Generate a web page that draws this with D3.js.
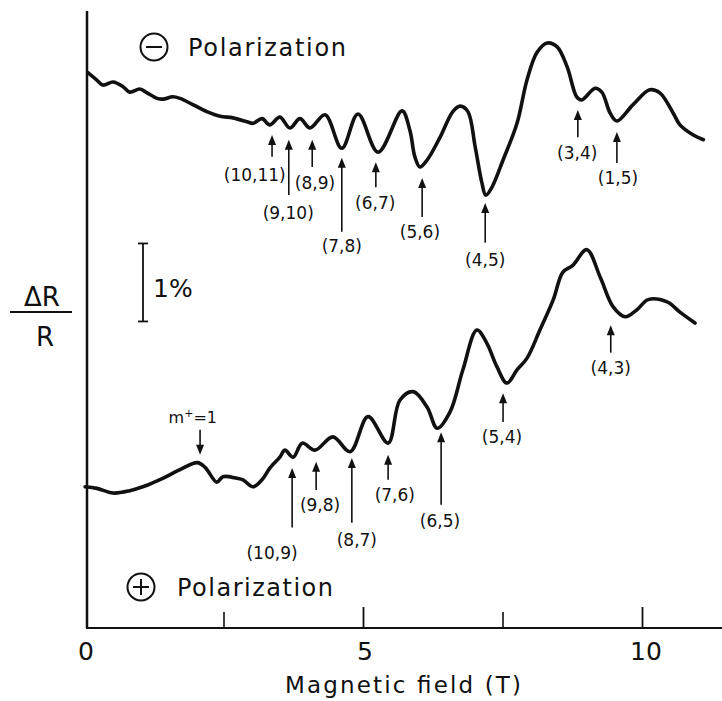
<!DOCTYPE html>
<html><head><meta charset="utf-8">
<script src="https://cdn.jsdelivr.net/npm/d3@7"></script>
<style>html,body{margin:0;padding:0;background:#fff;}svg{display:block;}</style>
</head><body>
<script>
// ---- data (field in T, signal in % of ΔR/R, arbitrary offset) ----
const topField  = [0.07,0.22,0.34,0.52,0.70,0.82,1.00,1.13,1.31,1.42,1.59,1.72,1.95,2.20,2.44,2.67,2.92,3.03,3.19,3.33,3.51,3.69,3.87,4.05,4.32,4.62,4.91,5.27,5.70,5.84,5.93,6.02,6.15,6.38,6.61,6.74,6.88,7.01,7.13,7.20,7.31,7.51,7.76,7.94,8.12,8.30,8.48,8.66,8.83,8.92,9.16,9.28,9.43,9.55,9.84,10.14,10.32,10.56,10.68,10.92,11.10];
const topSignal = [7.12,7.03,6.96,7.00,6.94,6.87,6.91,6.86,6.79,6.78,6.81,6.79,6.71,6.62,6.56,6.54,6.49,6.47,6.53,6.45,6.55,6.41,6.53,6.41,6.58,6.15,6.59,6.10,6.63,6.38,6.04,5.91,6.00,6.29,6.62,6.69,6.62,6.17,5.71,5.55,5.65,6.00,6.47,7.03,7.38,7.50,7.45,7.19,6.81,6.77,6.92,6.87,6.60,6.50,6.71,6.90,6.86,6.60,6.45,6.32,6.26];
const botField  = [0.02,0.23,0.52,0.82,1.13,1.42,1.72,2.03,2.17,2.38,2.49,2.74,2.85,3.03,3.19,3.33,3.51,3.60,3.75,3.91,4.14,4.46,4.77,5.09,5.45,5.66,5.90,6.15,6.33,6.56,6.79,7.04,7.22,7.40,7.58,7.76,7.94,8.17,8.41,8.58,8.76,9.01,9.25,9.48,9.70,9.91,10.11,10.45,10.68,10.95];
const botSignal = [1.81,1.79,1.73,1.76,1.83,1.92,2.03,2.12,2.06,1.87,1.94,1.92,1.90,1.81,1.90,2.05,2.19,2.28,2.19,2.37,2.28,2.45,2.26,2.71,2.37,2.92,3.03,2.83,2.56,2.77,3.31,3.82,3.65,3.35,3.14,3.31,3.46,3.82,4.21,4.56,4.65,4.85,4.50,4.12,3.99,4.08,4.21,4.18,4.05,3.91];

// Landau-level transition annotations
const topLabels   = ["(10,11)","(9,10)","(8,9)","(7,8)","(6,7)","(5,6)","(4,5)","(3,4)","(1,5)"];
const topArrowT   = [3.37,3.67,4.09,4.62,5.23,6.06,7.19,8.85,9.55];
const topArrowTip = [6.32,6.26,6.26,6.03,5.97,5.77,5.45,6.64,6.36];
const topArrowEnd = [6.04,5.55,5.91,5.08,5.65,5.27,4.94,6.29,5.96];
const topLabelT   = [3.06,3.66,4.14,4.62,5.22,6.02,7.19,8.84,9.57];
const topLabelV   = [5.81,5.32,5.71,4.90,5.45,5.08,4.72,6.09,5.77];

const botLabels   = ["(10,9)","(9,8)","(8,7)","(7,6)","(6,5)","(5,4)","(4,3)"];
const botArrowT   = [3.73,4.16,4.80,5.45,6.40,7.51,9.44];
const botArrowTip = [2.05,2.13,2.18,2.22,2.51,3.01,3.88];
const botArrowEnd = [1.29,1.77,1.35,1.90,1.58,2.64,3.53];
const botLabelT   = [3.37,4.23,4.89,5.57,6.38,7.49,9.44];
const botLabelV   = [0.96,1.58,1.13,1.71,1.37,2.45,3.33];

const xTicksMajor = [0,5,10];
const xTicksMinor = [2.5,7.5];
const scaleBar = [3.93,4.93]; // 1 % bar

// ---- drawing ----
const W = 722, H = 701;
const svg = d3.select("body").append("svg").attr("width",W).attr("height",H);
const x = d3.scaleLinear().domain([0,10]).range([84,642]);
const y = d3.scaleLinear().domain([0,7.91]).range([628,11]);
const ink = "#111";
const font = "'DejaVu Sans', sans-serif";

// axes
svg.append("line").attr("x1",87).attr("x2",87).attr("y1",y(7.91)).attr("y2",y(0))
  .attr("stroke",ink).attr("stroke-width",2.5);
svg.append("line").attr("x1",86).attr("x2",W).attr("y1",y(0)).attr("y2",y(0))
  .attr("stroke",ink).attr("stroke-width",2.2);
const xAxis = d3.axisTop(x).tickValues(xTicksMajor.slice(1)).tickSize(21).tickFormat("");
svg.append("g").attr("transform",`translate(0,${y(0)})`).call(xAxis)
  .call(g=>g.select(".domain").remove())
  .call(g=>g.selectAll("line").attr("stroke",ink).attr("stroke-width",1.8));
const xAxisMinor = d3.axisTop(x).tickValues(xTicksMinor).tickSize(16).tickFormat("");
svg.append("g").attr("transform",`translate(0,${y(0)})`).call(xAxisMinor)
  .call(g=>g.select(".domain").remove())
  .call(g=>g.selectAll("line").attr("stroke",ink).attr("stroke-width",1.6));
svg.selectAll("text.tick").data(xTicksMajor).join("text")
  .attr("x",d=>x(d)+(d===10?4:2)).attr("y",y(0)+32)
  .attr("text-anchor","middle").attr("font-family",font).attr("font-size",25)
  .attr("fill",ink).text(d=>d);
svg.append("text").attr("x",403).attr("y",693).attr("text-anchor","middle")
  .attr("font-family",font).attr("font-size",23).attr("fill",ink)
  .attr("textLength",236).attr("lengthAdjust","spacing").text("Magnetic field (T)");

// y label ΔR/R
svg.append("text").attr("x",42).attr("y",306).attr("text-anchor","middle")
  .attr("font-family",font).attr("font-size",26).attr("fill",ink).text("ΔR");
svg.append("line").attr("x1",10).attr("x2",72).attr("y1",312).attr("y2",312)
  .attr("stroke",ink).attr("stroke-width",1.8);
svg.append("text").attr("x",45).attr("y",346).attr("text-anchor","middle")
  .attr("font-family",font).attr("font-size",26).attr("fill",ink).text("R");

// 1% scale bar
const bx = 143;
svg.append("line").attr("x1",bx).attr("x2",bx).attr("y1",y(scaleBar[0])).attr("y2",y(scaleBar[1]))
  .attr("stroke",ink).attr("stroke-width",1.8);
[0,1].forEach(i=>svg.append("line").attr("x1",bx-5).attr("x2",bx+5)
  .attr("y1",y(scaleBar[i])).attr("y2",y(scaleBar[i])).attr("stroke",ink).attr("stroke-width",1.8));
svg.append("text").attr("x",153).attr("y",297).attr("font-family",font).attr("font-size",25)
  .attr("fill",ink).text("1%");

// polarization labels
function polSymbol(cx,cy,plus){
  svg.append("circle").attr("cx",cx).attr("cy",cy).attr("r",13.5).attr("fill","none")
    .attr("stroke",ink).attr("stroke-width",2);
  svg.append("line").attr("x1",cx-8).attr("x2",cx+8).attr("y1",cy).attr("y2",cy)
    .attr("stroke",ink).attr("stroke-width",2);
  if(plus) svg.append("line").attr("x1",cx).attr("x2",cx).attr("y1",cy-8).attr("y2",cy+8)
    .attr("stroke",ink).attr("stroke-width",2);
}
polSymbol(154,47,false);
svg.append("text").attr("x",188).attr("y",56).attr("font-family",font).attr("font-size",24)
  .attr("fill",ink).attr("textLength",158).attr("lengthAdjust","spacing").text("Polarization");
polSymbol(141,587,true);
svg.append("text").attr("x",177).attr("y",596).attr("font-family",font).attr("font-size",24)
  .attr("fill",ink).attr("textLength",156).attr("lengthAdjust","spacing").text("Polarization");

// curves
const line = d3.line().x(d=>x(d[0])).y(d=>y(d[1])).curve(d3.curveCatmullRom.alpha(0.5));
svg.append("path").datum(d3.zip(topField,topSignal)).attr("d",line)
  .attr("fill","none").attr("stroke",ink).attr("stroke-width",3.6)
  .attr("stroke-linejoin","round").attr("stroke-linecap","round");
svg.append("path").datum(d3.zip(botField,botSignal)).attr("d",line)
  .attr("fill","none").attr("stroke",ink).attr("stroke-width",3.6)
  .attr("stroke-linejoin","round").attr("stroke-linecap","round");

// arrows
function arrow(t,tipV,endV){
  const px = x(t), ty = y(tipV), ey = y(endV);
  const dir = ey > ty ? 1 : -1; // 1 => pointing up
  svg.append("line").attr("x1",px).attr("x2",px).attr("y1",ty+dir*6).attr("y2",ey)
    .attr("stroke",ink).attr("stroke-width",1.6);
  svg.append("path").attr("d",`M${px},${ty} L${px-4},${ty+dir*10} L${px+4},${ty+dir*10} Z`)
    .attr("fill",ink);
}
function label(t,v,txt,size){
  svg.append("text").attr("x",x(t)).attr("y",y(v)+6).attr("text-anchor","middle")
    .attr("font-family",font).attr("font-size",size||17).attr("fill",ink).text(txt);
}
topLabels.forEach((l,i)=>{arrow(topArrowT[i],topArrowTip[i],topArrowEnd[i]);label(topLabelT[i],topLabelV[i],l);});
botLabels.forEach((l,i)=>{arrow(botArrowT[i],botArrowTip[i],botArrowEnd[i]);label(botLabelT[i],botLabelV[i],l);});
// m+ = 1 marker (arrow pointing down)
arrow(2.08,2.22,2.54);
svg.append("text").attr("x",x(1.95)).attr("y",y(2.71)+6).attr("text-anchor","middle")
  .attr("font-family",font).attr("font-size",16).attr("fill",ink)
  .html('m<tspan baseline-shift="super" font-size="11">+</tspan>=1');
</script>
</body></html>
